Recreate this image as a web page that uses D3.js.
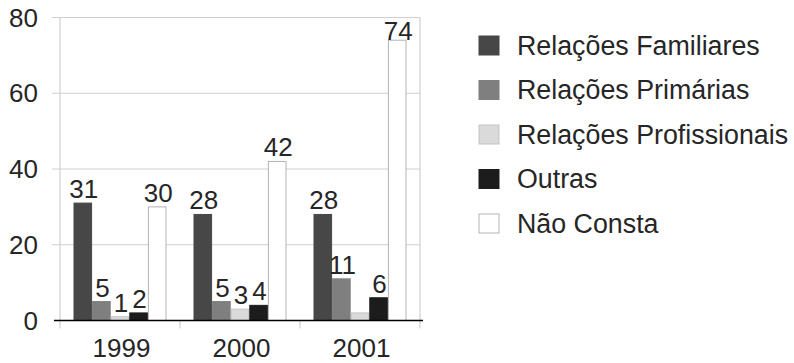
<!DOCTYPE html>
<html>
<head>
<meta charset="utf-8">
<script src="https://cdn.jsdelivr.net/npm/d3@7"></script>
<style>
  html, body { margin: 0; padding: 0; background: #fff; }
  svg { display: block; }
  text { font-family: "Liberation Sans", Arial, Helvetica, sans-serif; fill: #262626; }
</style>
</head>
<body>
<svg id="chart" width="794" height="363"></svg>
<script>
// Anos e categorias de relação
const years = ["1999", "2000", "2001"];
const seriesNames = ["Relações Familiares", "Relações Primárias", "Relações Profissionais", "Outras", "Não Consta"];

// Valores por série (na ordem dos anos)
const familiares = [31, 28, 28];
const primarias = [5, 5, 11];
const profissionais = [1, 3, 2];
const outras = [2, 4, 6];
const naoConsta = [30, 42, 74];

// Rótulos não exibidos (ano, série)
const hiddenLabels = [["2001", "Relações Profissionais"]];

const yTicks = [0, 20, 40, 60, 80];

const seriesValues = [familiares, primarias, profissionais, outras, naoConsta];
const fills = ["#474747", "#7f7f7f", "#dadada", "#1c1c1c", "#ffffff"];
const strokes = ["#474747", "#7f7f7f", "#c4c4c4", "#1c1c1c", "#b3b3b3"];

const rows = [];
years.forEach((yr, i) => {
  seriesNames.forEach((s, j) => {
    rows.push({ year: yr, series: s, value: seriesValues[j][i], idx: j });
  });
});

const svg = d3.select("#chart");
const plot = { left: 60, right: 420, top: 17.5, bottom: 320.5 };
const fontSize = 26;
const legendFont = 26.8;

const x0 = d3.scaleBand().domain(years)
  .range([plot.left, plot.right])
  .paddingInner(0.225).paddingOuter(0.1125);
const x1 = d3.scaleBand().domain(seriesNames).range([0, x0.bandwidth()]);
const y = d3.scaleLinear().domain([0, 80]).range([plot.bottom, plot.top]);
const color = d3.scaleOrdinal().domain(seriesNames).range(fills);
const edge = d3.scaleOrdinal().domain(seriesNames).range(strokes);

// Grade horizontal
svg.append("g").selectAll("line").data(yTicks.filter(t => t > 0)).join("line")
  .attr("x1", plot.left - 8).attr("x2", plot.right)
  .attr("y1", d => y(d)).attr("y2", d => y(d))
  .attr("stroke", "#cfcfcf").attr("stroke-width", 1.2);

// Bordas verticais da área e marcas das categorias
const step = x0.step();
const catEdges = [plot.left, plot.left + step, plot.left + 2 * step, plot.right];
svg.append("g").selectAll("line").data([plot.left, plot.right]).join("line")
  .attr("x1", d => d).attr("x2", d => d)
  .attr("y1", plot.top).attr("y2", plot.bottom + 8)
  .attr("stroke", "#cfcfcf").attr("stroke-width", 1.2);
svg.append("g").selectAll("line").data(catEdges.slice(1, 3)).join("line")
  .attr("x1", d => d).attr("x2", d => d)
  .attr("y1", plot.bottom).attr("y2", plot.bottom + 8)
  .attr("stroke", "#cfcfcf").attr("stroke-width", 1.2);

// Rótulos do eixo Y
svg.append("g").selectAll("text").data(yTicks).join("text")
  .attr("x", 38).attr("y", d => y(d))
  .attr("dy", "0.35em")
  .attr("text-anchor", "end")
  .style("font-size", fontSize + "px")
  .text(d => d);

// Barras
const groups = svg.append("g").selectAll("g").data(years).join("g")
  .attr("transform", d => `translate(${x0(d)},0)`);

groups.selectAll("rect")
  .data(yr => rows.filter(r => r.year === yr))
  .join("rect")
  .attr("x", d => x1(d.series) + 0.5)
  .attr("y", d => y(d.value))
  .attr("width", x1.bandwidth() - 1)
  .attr("height", d => y(0) - y(d.value))
  .attr("fill", d => color(d.series))
  .attr("stroke", d => edge(d.series))
  .attr("stroke-width", 1);

// Rótulos de valor
const capH = fontSize * 0.716;
groups.selectAll("text")
  .data(yr => rows.filter(r => r.year === yr &&
    !hiddenLabels.some(h => h[0] === r.year && h[1] === r.series)))
  .join("text")
  .attr("x", d => x1(d.series) + x1.bandwidth() / 2 + 1)
  .attr("y", d => Math.max(y(d.value) - 5, plot.top + capH + 3.5))
  .attr("text-anchor", "middle")
  .style("font-size", fontSize + "px")
  .text(d => d.value);

// Linha de base
svg.append("line")
  .attr("x1", plot.left - 6).attr("x2", plot.right + 3)
  .attr("y1", y(0)).attr("y2", y(0))
  .attr("stroke", "#000").attr("stroke-width", 1.3);

// Rótulos do eixo X
svg.append("g").selectAll("text").data(years).join("text")
  .attr("x", d => x0(d) + x0.bandwidth() / 2 + 1.5)
  .attr("y", 357)
  .attr("text-anchor", "middle")
  .style("font-size", fontSize + "px")
  .text(d => d);

// Legenda
const legend = svg.append("g").selectAll("g").data(seriesNames).join("g")
  .attr("transform", (d, i) => `translate(479,${45.5 + i * 44.5})`);
legend.append("rect")
  .attr("x", 0).attr("y", -9.5)
  .attr("width", 20).attr("height", 19)
  .attr("fill", d => color(d))
  .attr("stroke", d => d === "Não Consta" ? "#b3b3b3" : (d === "Relações Profissionais" ? "#c4c4c4" : color(d)))
  .attr("stroke-width", 1);
legend.append("text")
  .attr("x", 38).attr("y", 0)
  .attr("dy", "0.35em")
  .style("font-size", legendFont + "px")
  .text(d => d);
</script>
</body>
</html>
